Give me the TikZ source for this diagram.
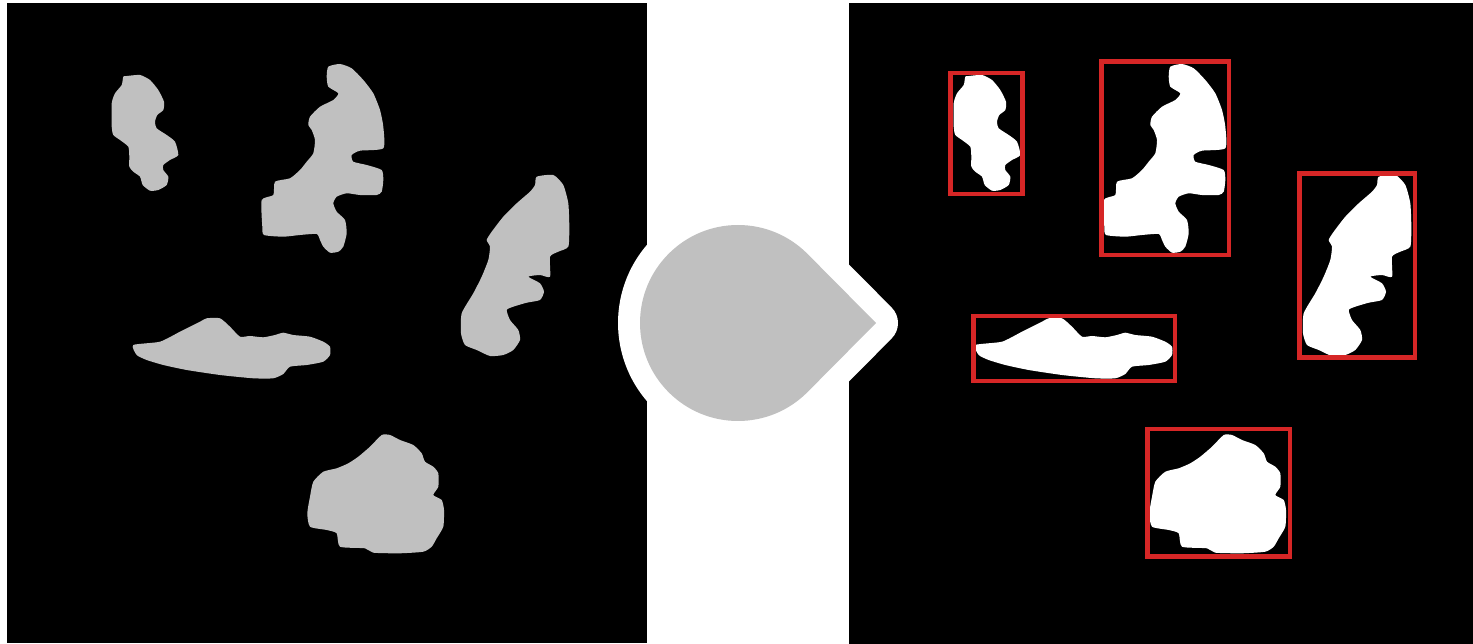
\documentclass[tikz,border=0pt]{standalone}
\usepackage{tikz}
\usetikzlibrary{calc}

\definecolor{blobgray}{RGB}{192,192,192}
\definecolor{boxred}{RGB}{214,38,38}

% the five blobs, in pixel coordinates of the left image
\newcommand{\blobs}[1]{%
  \fill[#1] plot[smooth cycle, tension=0.35] coordinates {(126.7,76) (140,75) (150,80) (158.3,90) (164,101.7) (163.3,110) (157.3,115) (155,121.7) (156.7,128.3) (166.7,135) (175,141.7) (178.3,155) (170,160) (163.3,165) (163.3,170) (168.3,176.7) (166.7,185) (158.3,190) (150,190.7) (142.7,185) (140,176.7) (133.3,171.7) (129.3,166.7) (129.3,156.7) (128.3,146.7) (120,140) (113.3,135) (111.7,126.7) (111.7,103.3) (115,93.3) (121.7,85) (123.3,76.7)};
  \fill[#1] plot[smooth cycle, tension=0.35] coordinates {(328.3,66.7) (340,64) (351.7,68.3) (363.3,80) (373.3,93.3) (380,110) (383.3,126.7) (383.3,148.3) (360,150.7) (351.7,155) (353.3,161.7) (366.7,165) (381.7,170) (383.3,180) (381.7,191.7) (376.7,195) (360,195) (346.7,193.3) (336.7,196.7) (333.3,203.3) (336.7,211.7) (345,220) (346.7,233.3) (343.3,246.7) (338.3,251.7) (330,252.7) (323.3,246.7) (320,240) (316.7,234) (300,235) (283.3,236.7) (264,235) (262.3,226.7) (261.7,200) (273.3,195) (275,181.7) (290,178.3) (300,170) (306.7,161.7) (313.3,153.3) (315,140) (311.7,130) (308.3,125) (310,116.7) (320,106.7) (333.3,100) (338.3,93.3) (328.3,86.7) (326.7,76.7)};
  \fill[#1] plot[smooth cycle, tension=0.35] coordinates {(536.7,176.7) (553.3,175) (563.3,185) (568.3,203.3) (569.3,226.7) (568.3,246.7) (558.3,251.7) (550,256.7) (550,276.7) (540,275) (528.3,276.7) (540,283.3) (544,291.7) (540,300) (526.7,302.7) (513.3,306.7) (506.7,310) (510,320) (518.3,330) (520,340) (513.3,350) (503.3,355) (490,356) (476.7,350) (465,345) (461,333.3) (461.7,313.3) (473.3,293.3) (481.7,276.7) (488.3,260) (490,246.7) (486.7,240) (491.7,231.7) (503.3,216.7) (516.7,203.3) (530,191.7) (535,185)};
  \fill[#1] plot[smooth cycle, tension=0.35] coordinates {(133.3,345) (160,341.7) (180,331.7) (200,321.7) (206.7,318.3) (220,318.3) (230,326.7) (240,336.7) (250,336) (263.3,337.3) (275,335) (283.3,332.7) (293.3,335) (310,336.7) (323.3,341.7) (330,346.7) (330,355) (323.3,361.7) (306.7,365) (290,366.7) (283.3,374) (273.3,378.3) (253.3,378.3) (220,375) (186.7,370) (163.3,365) (146.7,360) (136.7,355)};
  \fill[#1] plot[smooth cycle, tension=0.35] coordinates {(381.7,435) (390,435) (400,440) (413.3,445) (421.7,453.3) (425,461.7) (433.3,466.7) (438.3,473.3) (438.3,486.7) (433.3,495) (441.7,500) (444,510) (443.3,526.7) (436.7,538.3) (431.7,546.7) (423.3,551.7) (400,553.3) (373.3,552.7) (365,548.3) (340,546.7) (336.7,533.3) (326.7,530) (310,526.7) (307.3,513.3) (310,496.7) (313.3,481.7) (323.3,471.7) (336.7,468.3) (348.3,463.3) (358.3,456.7) (370,446.7)};
}

\begin{document}
\begin{tikzpicture}[x=0.02cm, y=-0.02cm,
    bbox/.style={draw=boxred, line width=0.09cm},
    drop/.style={fill=blobgray, draw=white, line width=0.88cm, line join=round}]

    \useasboundingbox[fill=white] (0,0) rectangle (1473,644);

    % input mask
    \fill[black] (7,3) rectangle (647,643);
    \blobs{blobgray}

    % output with boxes
    \begin{scope}
        \clip (849,3) rectangle (1473,644);
        \fill[black] (849,3) rectangle (1473,644);
        \begin{scope}[shift={(842,0)}]
            \blobs{white}
        \end{scope}
    \end{scope}
    \draw[bbox] (950.5,73) rectangle (1022.5,194);
    \draw[bbox] (1101.5,61.5) rectangle (1229,255);
    \draw[bbox] (1299.5,173.3) rectangle (1414.8,357.5);
    \draw[bbox] (973.3,315.8) rectangle (1174.8,380.8);
    \draw[bbox] (1147.5,429.2) rectangle (1290.2,556.5);

    % teardrop pointer
    \draw[drop] (876,323) -- ($(738,323)+(45:98)$) arc[start angle=45, end angle=315, radius=98] -- cycle;
    \fill[blobgray] (876,323) -- ($(738,323)+(45:98)$) arc[start angle=45, end angle=315, radius=98] -- cycle;
\end{tikzpicture}
\end{document}
